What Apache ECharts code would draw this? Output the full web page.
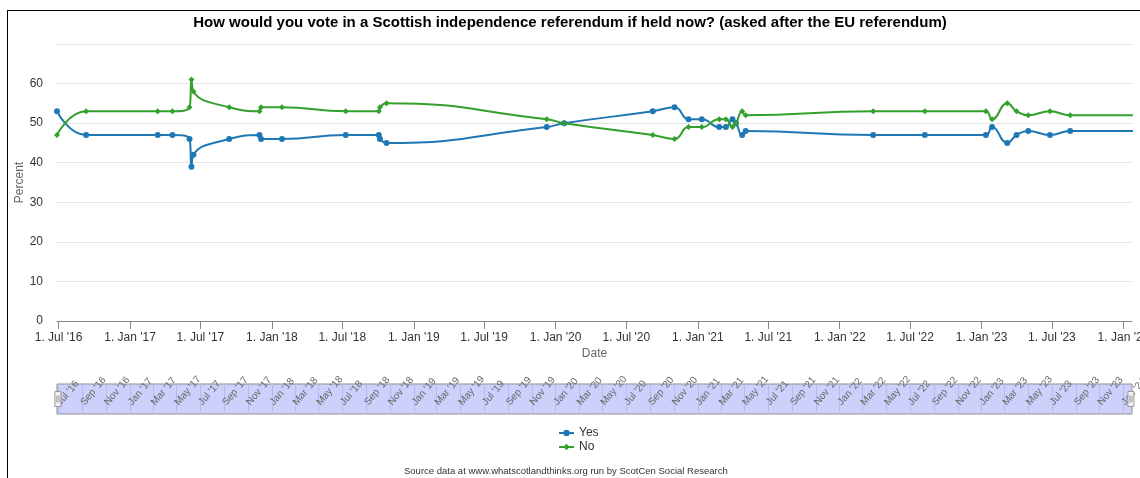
<!DOCTYPE html>
<html>
<head>
<meta charset="utf-8">
<script src="https://cdn.jsdelivr.net/npm/echarts@6/dist/echarts.min.js"></script>
<style>
  html, body { margin: 0; padding: 0; background: #fff; }
  #frame { position: absolute; left: 7px; top: 10px; width: 1300px; height: 600px; border-left: 1px solid #000; border-top: 1px solid #000; }
  #chart { position: absolute; left: 0; top: 0; width: 1140px; height: 478px; }
</style>
</head>
<body>
<div id="frame"></div>
<div id="chart"></div>
<script>
// ---------- data ----------
const pollDates = [
  '2016-06-27','2016-09-10','2017-03-13','2017-04-20','2017-06-03','2017-06-08','2017-06-13',
  '2017-09-13','2017-11-30','2017-12-04','2018-01-27','2018-07-10','2018-10-03','2018-10-06',
  '2018-10-23','2019-12-09','2020-01-23','2020-09-07','2020-11-02','2020-12-08','2021-01-11',
  '2021-02-25','2021-03-14','2021-03-31','2021-04-09','2021-04-25','2021-05-04','2022-03-28',
  '2022-08-08','2023-01-12','2023-01-28','2023-03-08','2023-04-01','2023-05-01','2023-06-26',
  '2023-08-17','2024-02-01'
];
const yesValues = [
  53,47,47,47,46,39,42,
  46,47,46,46,47,47,46,
  45,49,50,53,54,51,51,
  49,49,51,50,47,48,47,
  47,47,49,45,47,48,47,
  48,48
];
const noValues = [
  47,53,53,53,54,61,58,
  54,53,54,54,53,53,54,
  55,51,50,47,46,49,49,
  51,51,49,50,53,52,53,
  53,53,51,55,53,52,53,
  52,52
];
const xTickDates = ['2016-07-01','2017-01-01','2017-07-01','2018-01-01','2018-07-01','2019-01-01',
  '2019-07-01','2020-01-01','2020-07-01','2021-01-01','2021-07-01','2022-01-01','2022-07-01',
  '2023-01-01','2023-07-01','2024-01-01'];
const xTickLabels = ["1. Jul '16","1. Jan '17","1. Jul '17","1. Jan '18","1. Jul '18","1. Jan '19",
  "1. Jul '19","1. Jan '20","1. Jul '20","1. Jan '21","1. Jul '21","1. Jan '22","1. Jul '22",
  "1. Jan '23","1. Jul '23","1. Jan '24"];
const navLabels = ["Jul '16","Sep '16","Nov '16","Jan '17","Mar '17","May '17","Jul '17","Sep '17","Nov '17",
  "Jan '18","Mar '18","May '18","Jul '18","Sep '18","Nov '18","Jan '19","Mar '19","May '19","Jul '19",
  "Sep '19","Nov '19","Jan '20","Mar '20","May '20","Jul '20","Sep '20","Nov '20","Jan '21","Mar '21",
  "May '21","Jul '21","Sep '21","Nov '21","Jan '22","Mar '22","May '22","Jul '22","Sep '22","Nov '22",
  "Jan '23","Mar '23","May '23","Jul '23","Sep '23","Nov '23","Jan '24"];
const axisMinDate = '2016-06-27';
const axisMaxDate = '2024-01-23';
const yTicks = [0,10,20,30,40,50,60,70];

// ---------- build ----------
function ts(s) { return new Date(s + 'T00:00:00').getTime(); }
const MONTHS = {Jan:0,Feb:1,Mar:2,Apr:3,May:4,Jun:5,Jul:6,Aug:7,Sep:8,Oct:9,Nov:10,Dec:11};
function navTs(l) { const m = MONTHS[l.slice(0,3)]; const y = 2000 + parseInt(l.slice(-2),10); return new Date(y, m, 1).getTime(); }

const xTickTs = xTickDates.map(ts);
const navTickTs = navLabels.map(navTs);
function nearestLabel(v, tsArr, labels) {
  let best = 0, bd = Infinity;
  for (let i = 0; i < tsArr.length; i++) { const d = Math.abs(tsArr[i] - v); if (d < bd) { bd = d; best = i; } }
  return bd < 86400000 * 3 ? labels[best] : '';
}
const yesData = pollDates.map((d, i) => [ts(d), yesValues[i]]);
const noData = pollDates.map((d, i) => [ts(d), noValues[i]]);
const FONT = "'Liberation Sans', Arial, sans-serif";
const BLUE = '#1f78b4', GREEN = '#33a02c';

const chart = echarts.init(document.getElementById('chart'), null, {renderer: 'canvas'});
chart.setOption({
  animation: false,
  textStyle: { fontFamily: FONT },
  title: [
    { text: 'How would you vote in a Scottish independence referendum if held now? (asked after the EU referendum)',
      left: 'center', top: 10,
      textStyle: { fontFamily: FONT, fontSize: 15, fontWeight: 'bold', color: '#000' } },
    { text: 'Source data at www.whatscotlandthinks.org run by ScotCen Social Research',
      left: 404, top: 466, padding: 0,
      textStyle: { fontFamily: FONT, fontSize: 9.5, fontWeight: 'normal', color: '#333' } }
  ],
  legend: {
    data: ['Yes', 'No'], orient: 'vertical', left: 558, top: 426, padding: 0,
    itemWidth: 15, itemHeight: 8, itemGap: 0,
    textStyle: { fontFamily: FONT, fontSize: 12, color: '#333', lineHeight: 14 }
  },
  grid: [
    { left: 57, right: 8, top: 44, bottom: 157, outerBoundsMode: 'none' },
    { left: 57, right: 8, top: 384, height: 30, show: true, backgroundColor: '#ccd0fb', borderColor: '#8f8f8f', borderWidth: 1, outerBoundsMode: 'none' }
  ],
  xAxis: [
    { type: 'value', gridIndex: 0, min: ts(axisMinDate), max: ts(axisMaxDate),
      name: 'Date', nameLocation: 'middle', nameGap: 27, nameMoveOverlap: false,
      nameTextStyle: { fontFamily: FONT, fontSize: 12, color: '#666' },
      axisLine: { show: true, lineStyle: { color: '#888', width: 1 } },
      axisTick: { show: true, length: 8, lineStyle: { color: '#888' }, customValues: xTickTs },
      axisLabel: { customValues: xTickTs, margin: 11, fontFamily: FONT, fontSize: 12, color: '#333',
        hideOverlap: false, showMinLabel: true, showMaxLabel: true,
        formatter: v => nearestLabel(v, xTickTs, xTickLabels) },
      splitLine: { show: false } },
    { type: 'value', gridIndex: 1, min: ts(axisMinDate), max: ts(axisMaxDate),
      axisLine: { show: false }, axisTick: { show: false, customValues: navTickTs },
      axisLabel: { customValues: navTickTs, inside: true, rotate: 50, margin: 10, fontFamily: FONT, fontSize: 10, color: '#666',
        hideOverlap: false, showMinLabel: true, showMaxLabel: true,
        formatter: v => nearestLabel(v, navTickTs, navLabels) },
      splitLine: { show: true, lineStyle: { color: '#b6baea', width: 1 } } }
  ],
  yAxis: [
    { type: 'value', gridIndex: 0, min: 0, max: 70, interval: 10,
      name: 'Percent', nameLocation: 'middle', nameGap: 31, nameRotate: 90, nameMoveOverlap: false,
      nameTextStyle: { fontFamily: FONT, fontSize: 12, color: '#666' },
      axisLine: { show: false }, axisTick: { show: false },
      axisLabel: { margin: 14, fontFamily: FONT, fontSize: 12, color: '#333',
        formatter: v => (v === yTicks[yTicks.length - 1] ? '' : String(v)) },
      splitLine: { show: true, lineStyle: { color: '#e6e6e6', width: 1 } } },
    { type: 'value', gridIndex: 1, min: 0, max: 1, show: false }
  ],
  dataZoom: [
    { type: 'slider', xAxisIndex: 0, filterMode: 'none', start: 0, end: 100,
      left: 56, right: 9, top: 384, height: 30, z: 10,
      backgroundColor: 'rgba(0,0,0,0)', fillerColor: 'rgba(0,0,0,0)', borderColor: 'rgba(0,0,0,0)',
      showDetail: false, showDataShadow: false, brushSelect: false, moveHandleSize: 0,
      handleIcon: 'path://M0,0 L6,0 L6,15 L0,15 Z M2,4 L2,11 M4,4 L4,11',
      handleSize: '50%',
      handleStyle: { color: '#f2f2f2', borderColor: '#999', borderWidth: 1 },
      emphasis: { handleStyle: { color: '#f2f2f2', borderColor: '#999' } } }
  ],
  series: [
    { name: 'Yes', type: 'line', xAxisIndex: 0, yAxisIndex: 0, data: yesData, smooth: 0.5,
      clip: true, symbol: 'circle', symbolSize: 6, showAllSymbol: true,
      itemStyle: { color: BLUE }, lineStyle: { color: BLUE, width: 2 } },
    { name: 'No', type: 'line', xAxisIndex: 0, yAxisIndex: 0, data: noData, smooth: 0.5,
      clip: true, symbol: 'diamond', symbolSize: 6, showAllSymbol: true,
      itemStyle: { color: GREEN }, lineStyle: { color: GREEN, width: 2 } }
  ]
});
</script>
</body>
</html>
